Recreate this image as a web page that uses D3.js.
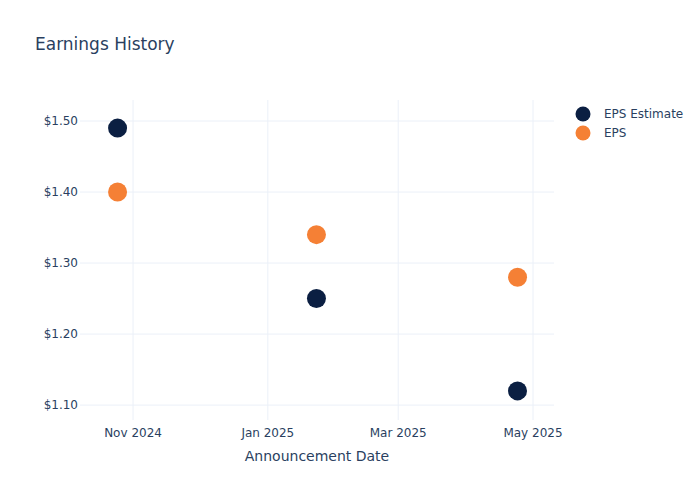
<!DOCTYPE html>
<html><head><meta charset="utf-8">
<script src="https://cdn.jsdelivr.net/npm/d3@7"></script>
<style>body{margin:0;background:#fff}svg{display:block;font-family:"DejaVu Sans",sans-serif}</style>
</head><body>
<svg id="c" width="700" height="500"></svg>
<script>
const dates = ["2024-10-25", "2025-01-23", "2025-04-24"];
const epsEstimate = [1.49, 1.25, 1.12];
const eps = [1.40, 1.34, 1.28];
const yTicks = [1.10, 1.20, 1.30, 1.40, 1.50];
const xTicks = ["2024-11-01", "2025-01-01", "2025-03-01", "2025-05-01"];
const seriesNames = ["EPS Estimate", "EPS"];
const colors = ["#0b1f42", "#f58035"];

const parse = d3.utcParse("%Y-%m-%d");
const svg = d3.select("#c");
const m = {l:80, r:146, t:100, b:80};
const W = 700, H = 500;
const x = d3.scaleUtc().domain([parse("2024-10-08"), new Date(Date.UTC(2025,4,10,12))]).range([m.l, W-m.r]);
const y = d3.scaleLinear().domain([1.079, 1.5296]).range([H-m.b, m.t]);

svg.append("text").attr("x",35).attr("y",50).attr("font-size",17).attr("fill","#2a3f5f").text("Earnings History");

const g = svg.append("g");
g.selectAll(".gx").data(xTicks).join("line").attr("stroke","#ebf0f8").attr("stroke-width",1)
  .attr("x1",d=>x(parse(d))).attr("x2",d=>x(parse(d))).attr("y1",m.t).attr("y2",H-m.b);
g.selectAll(".gy").data(yTicks).join("line").attr("stroke","#ebf0f8").attr("stroke-width",1)
  .attr("x1",m.l).attr("x2",W-m.r).attr("y1",d=>y(d)).attr("y2",d=>y(d));

const fmtX = d3.utcFormat("%b %Y");
g.selectAll(".tx").data(xTicks).join("text").attr("x",d=>x(parse(d))).attr("y",H-m.b+17)
  .attr("text-anchor","middle").attr("font-size",12).attr("fill","#2a3f5f").text(d=>fmtX(parse(d)));
g.selectAll(".ty").data(yTicks).join("text").attr("x",m.l-2).attr("y",d=>y(d)+4)
  .attr("text-anchor","end").attr("font-size",12).attr("fill","#2a3f5f").text(d=>"$"+d.toFixed(2));

svg.append("text").attr("x",(m.l+W-m.r)/2).attr("y",461).attr("text-anchor","middle")
  .attr("font-size",14).attr("fill","#2a3f5f").text("Announcement Date");

[epsEstimate, eps].forEach((vals,i)=>{
  svg.append("g").selectAll("circle").data(vals).join("circle")
    .attr("cx",(d,j)=>x(parse(dates[j]))).attr("cy",d=>y(d)).attr("r",9.5)
    .attr("fill",colors[i]);
});

const lg = svg.append("g");
seriesNames.forEach((n,i)=>{
  lg.append("circle").attr("cx",583).attr("cy",114+i*19).attr("r",7.5).attr("fill",colors[i]);
  lg.append("text").attr("x",604).attr("y",118+i*19).attr("font-size",12).attr("fill","#2a3f5f").text(n);
});
</script>
</body></html>
